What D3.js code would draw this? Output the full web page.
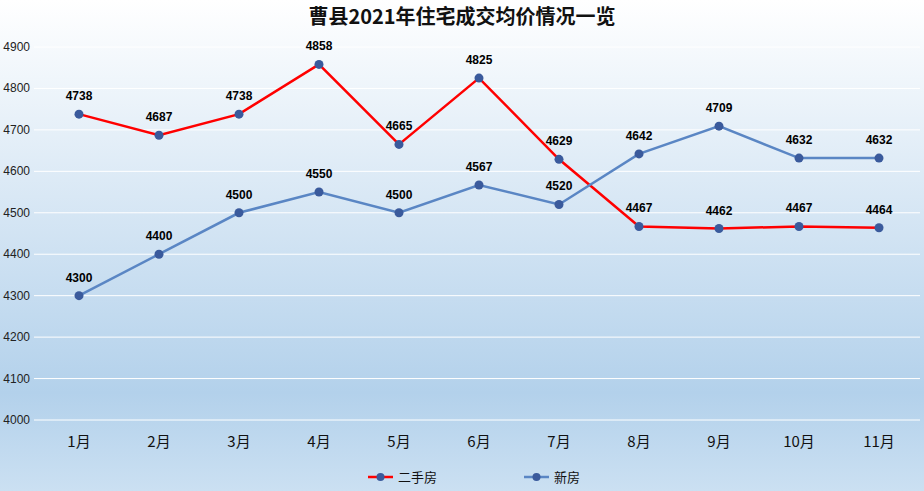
<!DOCTYPE html><html><head><meta charset="utf-8"><script src="https://cdn.jsdelivr.net/npm/d3@7"></script>
<style>body{margin:0}svg{display:block}</style></head><body><svg id="c" width="924" height="491"></svg>
<script>
const categories=["1月","2月","3月","4月","5月","6月","7月","8月","9月","10月","11月"];
const secondHand=[4738,4687,4738,4858,4665,4825,4629,4467,4462,4467,4464];
const newHouse=[4300,4400,4500,4550,4500,4567,4520,4642,4709,4632,4632];
const yTicks=[4000,4100,4200,4300,4400,4500,4600,4700,4800,4900];
const svg=d3.select("#c");
const defs=svg.append("defs");
const g=defs.append("linearGradient").attr("id","bg").attr("x1",0).attr("y1",0).attr("x2",0).attr("y2",1);
g.append("stop").attr("offset","0%").attr("stop-color","#ffffff");
g.append("stop").attr("offset","80%").attr("stop-color","#b3d1eb");
g.append("stop").attr("offset","100%").attr("stop-color","#cbe0f2");
svg.append("rect").attr("width",924).attr("height",491).attr("fill","url(#bg)");
const x=d3.scalePoint().domain(categories).range([79,879]);
const y=d3.scaleLinear().domain([4000,4900]).range([420,47]);
svg.append("g").selectAll("line").data(yTicks).join("line").attr("x1",34).attr("x2",920)
 .attr("y1",d=>y(d)).attr("y2",d=>y(d)).attr("stroke","#fff").attr("stroke-width",1);
svg.append("g").selectAll("text").data(yTicks).join("text").attr("x",30).attr("y",d=>y(d)+4)
 .attr("text-anchor","end").attr("font-family","Liberation Sans Narrow, Liberation Sans, sans-serif").attr("font-size",12).attr("fill","#222").text(d=>d);
svg.append("g").selectAll("text").data(categories).join("text").attr("x",d=>x(d)).attr("y",447)
 .attr("text-anchor","middle").attr("font-family","Noto Sans CJK SC").attr("font-size",15).attr("fill","#111").text(d=>d);
svg.append("text").attr("x",462).attr("y",24).attr("text-anchor","middle").attr("font-family","Noto Sans CJK SC")
 .attr("font-size",20).attr("font-weight","bold").attr("fill","#111").text("曹县2021年住宅成交均价情况一览");
const line=d3.line().x((d,i)=>x(categories[i])).y(d=>y(d));
function series(data,color){
 svg.append("path").datum(data).attr("d",line).attr("fill","none").attr("stroke",color).attr("stroke-width",2.5);
 svg.append("g").selectAll("circle").data(data).join("circle").attr("cx",(d,i)=>x(categories[i])).attr("cy",d=>y(d)).attr("r",4.5).attr("fill","#3a5a9c");
 svg.append("g").selectAll("text").data(data).join("text").attr("x",(d,i)=>x(categories[i])).attr("y",d=>y(d)-14)
  .attr("text-anchor","middle").attr("font-family","Liberation Sans Narrow, Liberation Sans, sans-serif").attr("font-weight","bold").attr("font-size",12).attr("fill","#000").text(d=>d);
}
series(secondHand,"#ff0000");
series(newHouse,"#5a86c4");
function legend(lx,color,label){
 svg.append("line").attr("x1",lx).attr("x2",lx+25).attr("y1",477).attr("y2",477).attr("stroke",color).attr("stroke-width",2.5);
 svg.append("circle").attr("cx",lx+12.5).attr("cy",477).attr("r",4).attr("fill","#3a5a9c");
 svg.append("text").attr("x",lx+30).attr("y",482).attr("font-family","Noto Sans CJK SC").attr("font-size",13).attr("fill","#111").text(label);
}
legend(368,"#ff0000","二手房");
legend(524,"#5a86c4","新房");
</script></body></html>
